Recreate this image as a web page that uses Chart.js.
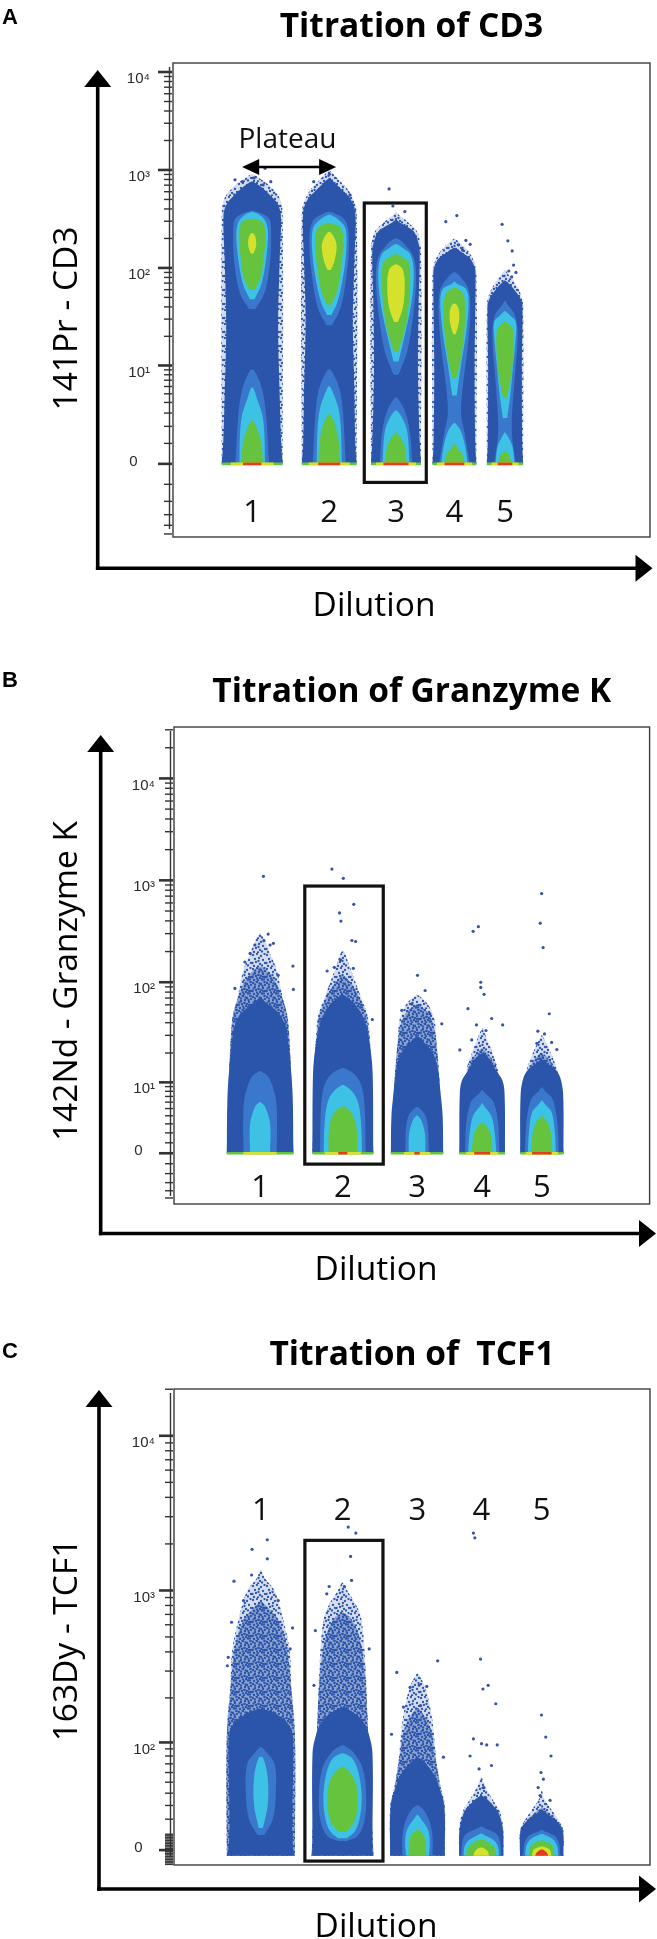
<!DOCTYPE html>
<html>
<head>
<meta charset="utf-8">
<script src="https://cdn.jsdelivr.net/npm/chart.js"></script>
<style>
html,body{margin:0;padding:0;background:#fff;}
#wrap{position:relative;width:657px;height:1939px;overflow:hidden;}
canvas{position:absolute;left:0;}
</style>
</head>
<body>
<div id="wrap">
<canvas id="cA" width="657" height="645" style="top:0px"></canvas>
<canvas id="cB" width="657" height="645" style="top:645px"></canvas>
<canvas id="cC" width="657" height="649" style="top:1290px"></canvas>
</div>
<script>
// ================= DATA =================
const dilutions = ['1','2','3','4','5'];

// ---- Panel A : 141Pr - CD3 (arcsinh cofactor 1) ----
const cd3Ticks = [0, 10, 100, 1000, 10000];
const cd3Columns = [[10.2,23.0],[27.0,38.5],[41.5,52.0],[54.4,63.6],[65.8,73.4]];
const cd3Sparse = [
  [[0,1],[347,1],[520,0.9],[680,0.6],[800,0.3],[900,0.04]],
  [[0,1],[372,1],[560,0.8],[720,0.5],[880,0.2],[980,0.03]],
  [[0,1],[150,1],[234,0.85],[290,0.5],[340,0.15],[370,0.02]],
  [[0,1],[91,1],[130,0.8],[160,0.5],[185,0.2],[200,0.02]],
  [[0,1],[42,1],[55,0.85],[70,0.55],[85,0.2],[95,0.02]]
];
const cd3Envelope = [
  [[0,1],[1,0.95],[5,0.9],[25,0.85],[120,0.9],[347,0.94],[457,0.82],[556,0.58],[680,0.28],[760,0.04]],
  [[0,1],[1,0.95],[5,0.92],[30,0.86],[120,0.92],[372,0.95],[513,0.76],[630,0.46],[741,0.2],[820,0.03]],
  [[0,1],[1,0.95],[8,0.88],[40,0.9],[148,0.95],[186,0.88],[234,0.72],[263,0.45],[295,0.12],[310,0.02]],
  [[0,1],[1,0.95],[10,0.92],[91,0.96],[107,0.88],[126,0.7],[141,0.4],[160,0.05]],
  [[0,1],[1,0.95],[10,0.93],[42,0.96],[49,0.84],[57,0.6],[67,0.3],[74,0.04]]
];
const cd3Light = [
  [[[38,0.1],[55,0.4],[110,0.58],[220,0.62],[320,0.55],[380,0.1]], [[0,0.55],[3,0.45],[6,0.3],[9,0.05]]],
  [[[26,0.1],[38,0.4],[80,0.62],[180,0.72],[300,0.6],[370,0.1]], [[0,0.6],[3,0.5],[6,0.35],[9,0.05]]],
  [[[8,0.1],[14,0.45],[35,0.7],[80,0.8],[130,0.7],[180,0.3],[200,0.05]], [[0,0.65],[1.67,0.55],[3.2,0.35],[4.5,0.05]]],
  [[[0,0.7],[1.67,0.45],[3,0.3],[6,0.38],[15,0.6],[35,0.72],[60,0.65],[80,0.3],[90,0.05]]],
  [[[0,0.6],[1.3,0.4],[2.6,0.38],[8,0.55],[20,0.7],[33,0.55],[42,0.15],[46,0.03]]]
];
const cd3Cyan = [
  [[[48,0.08],[68,0.3],[120,0.45],[219,0.52],[295,0.45],[347,0.25],[370,0.05]], [[0,0.42],[1.5,0.4],[2.85,0.33],[4.5,0.15],[5.8,0.03]]],
  [[[33,0.08],[45,0.3],[80,0.5],[150,0.62],[250,0.6],[300,0.4],[345,0.08]], [[0,0.46],[2,0.42],[3.5,0.33],[4.8,0.18],[6,0.03]]],
  [[[11,0.1],[19.5,0.33],[35,0.55],[60,0.68],[100,0.7],[140,0.55],[165,0.2],[175,0.04]], [[0,0.54],[1.67,0.45],[2.6,0.25],[3.2,0.04]]],
  [[[4.8,0.1],[10.2,0.3],[18,0.48],[30,0.6],[50,0.64],[62,0.5],[68,0.15],[72,0.03]], [[0,0.6],[0.8,0.5],[1.67,0.3],[2.2,0.05]]],
  [[[2.6,0.12],[5,0.3],[10,0.45],[18,0.58],[28,0.6],[33,0.25],[36,0.04]], [[0,0.52],[0.8,0.42],[1.3,0.2],[1.6,0.03]]]
];
const cd3Green = [
  [[[60,0.08],[80,0.28],[130,0.38],[220,0.44],[290,0.35],[315,0.1]], [[0,0.36],[1,0.3],[1.9,0.15],[2.4,0.03]]],
  [[[42,0.08],[60,0.3],[110,0.45],[200,0.52],[260,0.4],[285,0.1]], [[0,0.4],[1.2,0.34],[2.2,0.2],[2.9,0.03]]],
  [[[14,0.1],[25,0.38],[45,0.52],[80,0.57],[115,0.5],[131,0.2],[138,0.04]], [[0,0.42],[0.8,0.36],[1.3,0.18],[1.6,0.03]]],
  [[[7.4,0.1],[12,0.3],[22,0.45],[40,0.5],[55,0.38],[62,0.1]], [[0,0.45],[0.4,0.38],[0.75,0.15],[0.95,0.02]]],
  [[[4.5,0.1],[8,0.35],[15,0.47],[24,0.42],[27,0.15],[28.5,0.03]], [[0,0.35],[0.4,0.25],[0.6,0.03]]]
];
const cd3Yellow = [
  [[[140,0.05],[170,0.13],[205,0.11],[225,0.04]]],
  [[[95,0.06],[120,0.2],[170,0.27],[210,0.16],[232,0.04]]],
  [[[28,0.08],[40,0.28],[65,0.35],[95,0.28],[107,0.08]]],
  [[[21,0.05],[26,0.18],[34,0.22],[40,0.16],[43,0.04]]],
  []
];
const cd3ZeroPile = [[1,0.7,0.3],[1,0.75,0.4],[1,0.8,0.5],[1,0.8,0.45],[1,0.75,0.4]];
const cd3Outliers = [[13.0,794],[14.5,760],[17.0,830],[18.9,703],[19.3,1040],[20.5,760],[29.5,760],[32.8,904],[37.1,556],
  [45.3,640],[46.1,429],[48.6,376],[57.2,297],[59.5,342],[59.8,172],[61.4,191],[62.3,174],[60.7,152],
  [69.0,279],[70.2,189],[71.1,149],[71.4,107],[70.4,93],[71.9,90],[71.0,81]];

// ---- Panel B : 142Nd - Granzyme K (arcsinh cofactor 2.1) ----
const graTicks = [0, 10, 100, 1000, 10000];
const graColumns = [[11.1,25.1],[29.1,41.9],[45.6,56.6],[60.0,69.6],[72.8,81.9]];
const graSparse = [
  [[0,1],[36,0.85],[78,0.65],[132,0.5],[191,0.3],[257,0.15],[300,0.02]],
  [[0,1],[40,0.85],[78,0.55],[113,0.35],[150,0.2],[200,0.04]],
  [[0,1],[14.5,0.83],[25,0.73],[42.6,0.67],[61.6,0.4],[75,0.04]],
  [[0,1],[13,0.7],[20,0.45],[28,0.2],[35,0.02]],
  [[0,1],[12,0.75],[18,0.5],[24,0.25],[30,0.02]]
];
const graSemi = [
  [[0,1],[40,0.85],[78,0.62],[110,0.4],[140,0.08]],
  [[0,1],[40,0.82],[70,0.55],[95,0.3],[115,0.05]],
  [[0,1],[20,0.78],[35,0.66],[50,0.42],[60,0.05]],
  [[0,1],[13,0.66],[18,0.4],[22,0.05]],
  [[0,1],[12,0.7],[16,0.45],[20,0.05]]
];
const graEnvelope = [
  [[0,1],[6.9,0.98],[14.5,0.92],[27,0.84],[36,0.78],[50,0.55],[62,0.2],[70,0.03]],
  [[0,1],[12.4,0.98],[23,0.9],[36,0.78],[50,0.6],[65,0.3],[75,0.04]],
  [[0,1],[3.9,0.98],[7.6,0.9],[14.5,0.78],[20,0.6],[25,0.3],[29,0.04]],
  [[0,1],[7.6,0.98],[10.6,0.88],[13.4,0.6],[17.1,0.35],[19.8,0.04]],
  [[0,1],[7.6,0.98],[11.4,0.84],[13.4,0.65],[15.2,0.35],[17,0.04]]
];
const graLight = [
  [[[0,0.5],[5,0.5],[8,0.42],[11.4,0.25],[13,0.04]]],
  [[[0,0.75],[5,0.72],[9,0.62],[12,0.4],[14,0.05]]],
  [[[0,0.45],[2.5,0.42],[4.2,0.3],[5.2,0.04]]],
  [[[0,0.75],[3,0.7],[6,0.5],[7.5,0.15],[8.2,0.02]]],
  [[[0,0.78],[3,0.72],[6.5,0.5],[8,0.15],[8.8,0.02]]]
];
const graCyan = [
  [[[0,0.3],[3,0.3],[5.3,0.15],[6,0.02]]],
  [[[0,0.63],[3,0.6],[6,0.5],[8,0.3],[9.3,0.04]]],
  [[[0,0.32],[2,0.3],[3.5,0.15],[4,0.02]]],
  [[[0,0.62],[2,0.55],[4,0.4],[5.3,0.1],[5.8,0.02]]],
  [[[0,0.65],[2,0.6],[4.5,0.45],[5.8,0.12],[6.3,0.02]]]
];
const graGreen = [
  [],
  [[[0,0.47],[2.5,0.45],[4.3,0.3],[5.3,0.04]]],
  [],
  [[[0,0.45],[1.5,0.4],[2.5,0.25],[3.1,0.04]]],
  [[[0,0.48],[1.5,0.45],[3,0.3],[3.9,0.04]]]
];
const graZeroPile = [[1,0.5,0],[1,0.6,0.15],[1,0.5,0.1],[1,0.7,0.35],[1,0.75,0.45]];
const graOutliers = [[18.8,1096],[19.8,297],[18.9,256],[20.9,241],[20.2,232],[17.0,232],[16.0,192],[14.9,158],[25.0,144],[25.1,85],[12.8,87],[21.9,117],
  [33.2,1290],[35.6,1047],[37.8,582],[34.8,479],[35.1,398],[37.4,257],[38.2,251],[35.0,166],[33.7,140],[32.2,129],[37.7,137],[41.7,43],
  [51.2,117],[52.8,83],[50.0,61],[56.3,39],[47.9,53],[53.8,49],
  [62.9,316],[64.0,351],[64.5,100],[64.5,89],[65.2,76],[61.8,55],[63.6,38],[66.8,44],[69.1,38],[60.1,21.5],[65.6,33.5],[62.6,27],
  [77.3,741],[77.0,380],[77.6,219],[78.9,49],[76.5,33],[77.9,31],[79.4,25.5],[76.3,25],[80.5,21.7],[77.0,17.5]];

// ---- Panel C : 163Dy - TCF1 (arcsinh cofactor 21) ----
const tcfTicks = [0, 100, 1000, 10000];
const tcfColumns = [[11.1,25.4],[28.9,41.9],[45.4,56.9],[59.9,69.2],[72.7,81.8]];
const tcfSparse = [
  [[-3.5,1],[115,1],[200,0.9],[400,0.85],[700,0.62],[1000,0.4],[1200,0.12],[1350,0.02]],
  [[-3.5,1],[160,0.8],[300,0.75],[640,0.62],[820,0.42],[1000,0.15],[1120,0.02]],
  [[-3.5,1],[30,1],[45,0.85],[70,0.7],[140,0.55],[230,0.3],[290,0.02]],
  [[-3.5,1],[13.2,1],[25,0.85],[35,0.5],[45,0.2],[55,0.02]],
  [[-3.5,1],[12.5,1],[20,0.75],[28,0.4],[36,0.1],[42,0.02]]
];
const tcfSemi = [
  [[-3.5,1],[115,1],[250,0.88],[450,0.75],[650,0.5],[800,0.15],[850,0.02]],
  [[-3.5,1],[160,0.8],[300,0.72],[500,0.55],[650,0.3],[720,0.03]],
  [[-3.5,1],[45,0.82],[80,0.65],[130,0.45],[170,0.05]],
  [[-3.5,1],[25,0.8],[30,0.45],[35,0.05]],
  [[-3.5,1],[18,0.7],[24,0.35],[28,0.03]]
];
const tcfEnvelope = [
  [[-3.5,1],[0,0.95],[20,0.92],[100,0.95],[125,0.88],[141,0.72],[156,0.45],[168,0.1]],
  [[-3.5,1],[0,0.97],[83,0.97],[114,0.85],[141,0.65],[160,0.35],[172,0.05]],
  [[-3.5,1],[29.7,0.98],[45,0.8],[58,0.6],[70,0.3],[78,0.04]],
  [[-3.5,1],[13.2,0.98],[23.5,0.8],[29.7,0.55],[35,0.25],[38,0.03]],
  [[-3.5,1],[12.5,0.98],[17.7,0.76],[21,0.5],[24.3,0.2],[27,0.02]]
];
const tcfLight = [
  [[[9.5,0.1],[20,0.35],[40,0.44],[70,0.4],[86,0.15],[92,0.03]]],
  [[[5.7,0.15],[9,0.5],[20,0.72],[40,0.76],[65,0.65],[85,0.35],[95,0.05]]],
  [[[-3.5,0.55],[8,0.55],[18,0.45],[26,0.25],[30,0.04]]],
  [[[-3.5,0.9],[5,0.85],[10,0.7],[14,0.15],[15,0.02]]],
  [[[-3.5,0.85],[4,0.8],[9,0.6],[12,0.12],[12.8,0.02]]]
];
const tcfCyan = [
  [[[14,0.06],[30,0.2],[55,0.2],[78,0.06]]],
  [[[7.5,0.15],[12,0.4],[20,0.55],[35,0.62],[55,0.55],[75,0.35],[83,0.08]]],
  [[[-3.5,0.42],[5,0.45],[13,0.38],[21,0.1],[23,0.02]]],
  [[[-3.5,0.8],[2,0.76],[6,0.58],[9.9,0.1],[10.5,0.02]]],
  [[[-3.5,0.77],[3,0.7],[7,0.5],[9.9,0.1]]]
];
const tcfGreen = [
  [],
  [[[11.6,0.12],[18,0.38],[32,0.49],[50,0.42],[62,0.2],[66,0.05]]],
  [[[-3.5,0.32],[5,0.3],[10,0.2],[12.5,0.04]]],
  [[[-3.5,0.68],[1,0.62],[4,0.42],[6.5,0.08]]],
  [[[-3.5,0.6],[2,0.52],[4.5,0.35],[5.9,0.06]]]
];
const tcfYellow = [[],[],[],
  [[[-3.5,0.35],[-1,0.3],[1.4,0.08]]],
  [[[-3.5,0.45],[0,0.38],[1.5,0.22],[2.3,0.04]]]
];
const tcfRed = [[],[],[],[],
  [[[-3.5,0.3],[-2,0.26],[-0.5,0.15],[0.3,0.03]]]
];
const tcfOutliers = [[19.6,2128],[16.4,1845],[19.6,1603],[12.6,1148],[16.3,1259],[24.9,572],[11.4,369],[11.2,325],[12.1,623],[24.4,418],[21.9,860],[14.6,860],
  [36.6,2570],[38.2,2350],[37.1,1660],[37.3,1161],[35.8,1061],[32.6,1061],[32.1,952],[29.7,550],[29.4,242],[41.0,418],
  [46.8,294],[55.4,350],[49.6,235],[51.5,243],[53.1,238],[48.2,174],[51.8,178],[56.6,78.5],[45.7,114],
  [62.9,2350],[63.2,2190],[64.4,359],[64.9,229],[66.0,242],[67.6,183],[62.9,106],[64.6,98],[65.7,96],[67.9,96],[62.2,80],[64.1,64],[66.7,68],[65.1,45],[65.5,36],
  [77.2,154],[78.1,109],[79.2,80],[77.1,60],[77.6,53],[76.5,45],[76.9,38],[79.0,34]];

// ================= CUSTOM ARCSINH SCALE =================
class AsinhScale extends Chart.LinearScale {
  tf(v){ const c = this.options.cofactor; return Math.log10(c) + Math.asinh(v/(2*c))/Math.LN10; }
  itf(u){ const c = this.options.cofactor; return 2*c*Math.sinh((u - Math.log10(c))*Math.LN10); }
  determineDataLimits(){ this.min = this.options.min; this.max = this.options.max; }
  buildTicks(){
    const out = [0];
    for (let k = 0; k <= 5; k++) for (let m = 1; m <= 9; m++) { const v = m*Math.pow(10,k); out.push(v, -v); }
    return out.filter(v => v >= this.min && v <= this.max).sort((a,b) => a-b).map(v => ({value: v}));
  }
  configure(){ super.configure(); this._tStart = this.tf(this.min); this._tRange = this.tf(this.max) - this._tStart; }
  getPixelForValue(v){
    if (v === null || v === undefined || isNaN(v)) return NaN;
    return this.getPixelForDecimal((this.tf(v) - this._tStart)/this._tRange);
  }
  getValueForPixel(p){ return this.itf(this._tStart + this.getDecimalForPixel(p)*this._tRange); }
}
AsinhScale.id = 'asinh';
AsinhScale.defaults = {};
Chart.register(AsinhScale);

Chart.defaults.font.family = '"Open Sans", sans-serif';
Chart.defaults.animation = false;

// ================= STYLE =================
const ENV = '#2b55aa', LIGHT = '#3a78cd', CYAN = '#3dc1e4', GREEN = '#66c33d', YELLOW = 'rgba(226,228,44,0.9)', RED = '#e43c1f';
function dotPattern(tint, dots){
  const t = document.createElement('canvas'); t.width = 14; t.height = 14;
  const g = t.getContext('2d');
  g.fillStyle = tint; g.fillRect(0,0,14,14);
  g.fillStyle = '#2d56ab';
  dots.forEach(([x,y]) => { g.beginPath(); g.arc(x, y, 1.15, 0, Math.PI*2); g.fill(); });
  return g.createPattern(t, 'repeat');
}
const DOTS = [[1,2],[5,1],[9,3],[12.5,1],[3,6],[7,5],[11,7],[0.5,10],[4,9],[8,11],[13,10],[2,13],[6,13.5],[10,12.5],[6.5,8]];
const DOTS2 = DOTS.concat([[3,3.5],[10.5,5],[1.5,7.5],[12,12.5],[9,9],[5,11.5],[7.5,2.5],[13,4],[4.5,0.5],[11,10]]);
const SPARSE = dotPattern('rgba(43,85,170,0.2)', DOTS);
const SEMI = dotPattern('rgba(43,85,170,0.42)', DOTS2);
const SUP = {10:'\u00b9', 100:'\u00b2', 1000:'\u00b3', 10000:'\u2074'};

function shape(range, profile, bg, order){
  const c = (range[0]+range[1])/2, hw = (range[1]-range[0])/2;
  const pts = profile.map(([v,f]) => ({x: c - f*hw, y: v}))
    .concat(profile.slice().reverse().map(([v,f]) => ({x: c + f*hw, y: v})));
  return {data: pts, backgroundColor: bg, borderColor: 'rgba(0,0,0,0)', borderWidth: 0,
          pointRadius: 0, fill: 'shape', tension: 0.35, order, showLine: true};
}
function buildDatasets(columns, layers, pile, outliers){
  const ds = [];
  layers.forEach(([perCol, bg, order]) => {
    perCol.forEach((item, i) => {
      if (!item || !item.length) return;
      const blobs = (typeof item[0][0] === 'number') ? [item] : item;
      blobs.forEach(p => ds.push(shape(columns[i], p, bg, order)));
    });
  });
  if (pile) {
    pile.forEach((fr, i) => {
      const c = (columns[i][0]+columns[i][1])/2, hw = (columns[i][1]-columns[i][0])/2;
      [[fr[0], GREEN, 4], [fr[1], YELLOW, 3.5], [fr[2], RED, 3]].forEach(([f, col, ord]) => {
        if (f <= 0) return;
        ds.push({data: [{x: c - f*hw, y: 0}, {x: c + f*hw, y: 0}], borderColor: col, borderWidth: 2.6,
                 pointRadius: 0, fill: false, showLine: true, order: ord, borderCapStyle: 'butt'});
      });
    });
  }
  ds.push({data: outliers.map(([x, v]) => ({x, y: v})), showLine: false, pointRadius: 1.6,
           pointBackgroundColor: '#3453ae', backgroundColor: '#3453ae', pointBorderWidth: 0, borderWidth: 0, order: 1});
  return ds;
}

function makeDecor(cfg){
  return {
    id: 'decor',
    afterDatasetsDraw(chart){
      const {ctx, chartArea: a} = chart; const x = chart.scales.x, y = chart.scales.y;
      ctx.save();
      ctx.strokeStyle = '#3c3c3c'; ctx.lineWidth = 1.4;
      ctx.strokeRect(a.left, a.top, a.right - a.left, a.bottom - a.top);
      ctx.strokeStyle = '#333';
      ctx.beginPath(); ctx.moveTo(a.left - 3.5, a.top + 4); ctx.lineTo(a.left - 3.5, a.bottom - 8); ctx.stroke();
      y.ticks.forEach(t => {
        const p = y.getPixelForValue(t.value);
        const major = cfg.labelled.includes(t.value);
        ctx.lineWidth = major ? 2.6 : 1.4;
        ctx.beginPath(); ctx.moveTo(a.left - (major ? 15 : 9), p); ctx.lineTo(a.left - 1, p); ctx.stroke();
      });
      const s = cfg.select;
      const x0 = x.getPixelForValue(s[0]), x1 = x.getPixelForValue(s[1]);
      const y0 = y.getPixelForValue(s[2]), y1 = y.getPixelForValue(s[3]);
      ctx.strokeStyle = '#111'; ctx.lineWidth = 3.2;
      ctx.strokeRect(x0, y0, x1 - x0, y1 - y0);
      ctx.fillStyle = '#111'; ctx.font = '31px "Open Sans"'; ctx.textAlign = 'center'; ctx.textBaseline = 'alphabetic';
      cfg.columns.forEach((r, i) => ctx.fillText(dilutions[i], x.getPixelForValue((r[0]+r[1])/2), cfg.numbersY));
      if (cfg.plateau) {
        const pl = cfg.plateau;
        ctx.font = '28px "Open Sans"';
        ctx.fillText('Plateau', x.getPixelForValue(pl.textX), pl.textY);
        const xa = x.getPixelForValue(pl.from), xb = x.getPixelForValue(pl.to), py = pl.y;
        ctx.strokeStyle = '#000'; ctx.fillStyle = '#000'; ctx.lineWidth = 2.4;
        ctx.beginPath(); ctx.moveTo(xa + 12, py); ctx.lineTo(xb - 12, py); ctx.stroke();
        ctx.beginPath(); ctx.moveTo(xa, py); ctx.lineTo(xa + 17, py - 8); ctx.lineTo(xa + 17, py + 8); ctx.closePath(); ctx.fill();
        ctx.beginPath(); ctx.moveTo(xb, py); ctx.lineTo(xb - 17, py - 8); ctx.lineTo(xb - 17, py + 8); ctx.closePath(); ctx.fill();
      }
      ctx.restore();
    },
    afterDraw(chart){
      const ctx = chart.ctx; const ar = cfg.arrows;
      ctx.save();
      ctx.fillStyle = '#000'; ctx.strokeStyle = '#000'; ctx.lineWidth = 3.6;
      ctx.beginPath(); ctx.moveTo(ar.ax, ar.ay + 1.8); ctx.lineTo(ar.ax, ar.tipY + 10); ctx.stroke();
      ctx.beginPath(); ctx.moveTo(ar.ax - 1.8, ar.ay); ctx.lineTo(ar.tipX - 10, ar.ay); ctx.stroke();
      ctx.beginPath(); ctx.moveTo(ar.ax, ar.tipY); ctx.lineTo(ar.ax - 13.5, ar.tipY + 17); ctx.lineTo(ar.ax + 13.5, ar.tipY + 17); ctx.closePath(); ctx.fill();
      ctx.beginPath(); ctx.moveTo(ar.tipX, ar.ay); ctx.lineTo(ar.tipX - 17, ar.ay - 13.5); ctx.lineTo(ar.tipX - 17, ar.ay + 13.5); ctx.closePath(); ctx.fill();
      ctx.textBaseline = 'alphabetic';
      ctx.font = 'bold 22px "Liberation Sans", Arial, sans-serif'; ctx.textAlign = 'left';
      ctx.fillText(cfg.letter, 2, cfg.letterY);
      ctx.font = '33.5px "Open Sans"'; ctx.textAlign = 'center';
      ctx.fillText('Dilution', cfg.xTitle[0], cfg.xTitle[1]);
      ctx.translate(cfg.yTitle[0], cfg.yTitle[1]); ctx.rotate(-Math.PI/2);
      ctx.fillText(cfg.yTitleText, 0, 0);
      ctx.restore();
    }
  };
}

function tickFormatter(labelled){
  return function(value){
    if (!labelled.includes(value)) return '';
    if (value === 0) return ['0   ', ''];
    return '10' + SUP[value];
  };
}

function makeChart(id, p){
  new Chart(document.getElementById(id), {
    type: 'line',
    data: {datasets: p.datasets},
    options: {
      responsive: false, animation: false, events: [],
      layout: {autoPadding: false, padding: {left: 0, top: 0, right: p.padRight, bottom: p.padBottom}},
      plugins: {
        legend: {display: false}, tooltip: {enabled: false},
        title: {display: true, text: p.title, fullSize: false, color: '#000',
                font: {family: '"Open Sans"', size: 33.5, weight: 'bold', lineHeight: 1.2},
                padding: {top: p.titleTop, bottom: p.titleBottom}}
      },
      scales: {
        x: {type: 'linear', min: 0, max: 100, display: false},
        y: {type: 'asinh', cofactor: p.cofactor, min: p.min, max: p.max, position: 'left',
            grid: {display: false, drawTicks: false}, border: {display: false},
            ticks: {autoSkip: false, padding: p.tickPad, labelOffset: 7, color: '#2a2a2a',
                    font: {family: '"Liberation Sans", Arial, sans-serif', size: 15},
                    callback: tickFormatter(p.labelled)},
            afterFit: (s) => { s.width = p.axisWidth; }}
      }
    },
    plugins: [makeDecor(p.decor)]
  });
}

// Panel A
makeChart('cA', {
  title: 'Titration of CD3', cofactor: 1, min: -5.4, max: 12360, labelled: cd3Ticks,
  padRight: 7, padBottom: 108, titleTop: 6.9, titleBottom: 15.9, tickPad: 23, axisWidth: 173,
  datasets: buildDatasets(cd3Columns, [[cd3Sparse, SPARSE, 20],[cd3Envelope, ENV, 19],[cd3Light, LIGHT, 18],
      [cd3Cyan, CYAN, 17],[cd3Green, GREEN, 16],[cd3Yellow, YELLOW, 15]], cd3ZeroPile, cd3Outliers),
  decor: {labelled: cd3Ticks, columns: cd3Columns, select: [40.1, 53.1, 460, -0.9], numbersY: 522,
          plateau: {textX: 24.0, textY: 148, from: 14.5, to: 34.2, y: 167},
          arrows: {ax: 97.7, ay: 568.3, tipY: 70, tipX: 652.5},
          letter: 'A', letterY: 24, xTitle: [374, 616], yTitle: [77, 318.5], yTitleText: '141Pr - CD3'}
});
// Panel B
makeChart('cB', {
  title: 'Titration of Granzyme K', cofactor: 2.1, min: -5.94, max: 31950, labelled: graTicks,
  padRight: 7.4, padBottom: 86, titleTop: 26.9, titleBottom: 14.9, tickPad: 19, axisWidth: 174,
  datasets: buildDatasets(graColumns, [[graSparse, SPARSE, 21],[graSemi, SEMI, 20],[graEnvelope, ENV, 19],[graLight, LIGHT, 18],
      [graCyan, CYAN, 17],[graGreen, GREEN, 16]], graZeroPile, graOutliers),
  decor: {labelled: graTicks, columns: graColumns, select: [27.5, 44.0, 879, -1.04], numbersY: 552,
          arrows: {ax: 100.7, ay: 588.5, tipY: 90, tipX: 656},
          letter: 'B', letterY: 42, xTitle: [376, 635], yTitle: [77, 336], yTitleText: '142Nd - Granzyme K'}
});
// Panel C
makeChart('cC', {
  title: 'Titration of  TCF1', cofactor: 21, min: -9.4, max: 20065, labelled: tcfTicks,
  padRight: 7, padBottom: 74, titleTop: 44.9, titleBottom: 13.9, tickPad: 19, axisWidth: 174,
  datasets: buildDatasets(tcfColumns, [[tcfSparse, SPARSE, 21],[tcfSemi, SEMI, 20],[tcfEnvelope, ENV, 19],[tcfLight, LIGHT, 18],
      [tcfCyan, CYAN, 17],[tcfGreen, GREEN, 16],[tcfYellow, YELLOW, 15],[tcfRed, RED, 14]], null, tcfOutliers),
  decor: {labelled: tcfTicks, columns: tcfColumns, select: [27.5, 43.9, 2109, -6.9], numbersY: 229.6,
          arrows: {ax: 99, ay: 599, tipY: 100, tipX: 656},
          letter: 'C', letterY: 68, xTitle: [376, 646.5], yTitle: [77, 350], yTitleText: '163Dy - TCF1'}
});
</script>
</body>
</html>
